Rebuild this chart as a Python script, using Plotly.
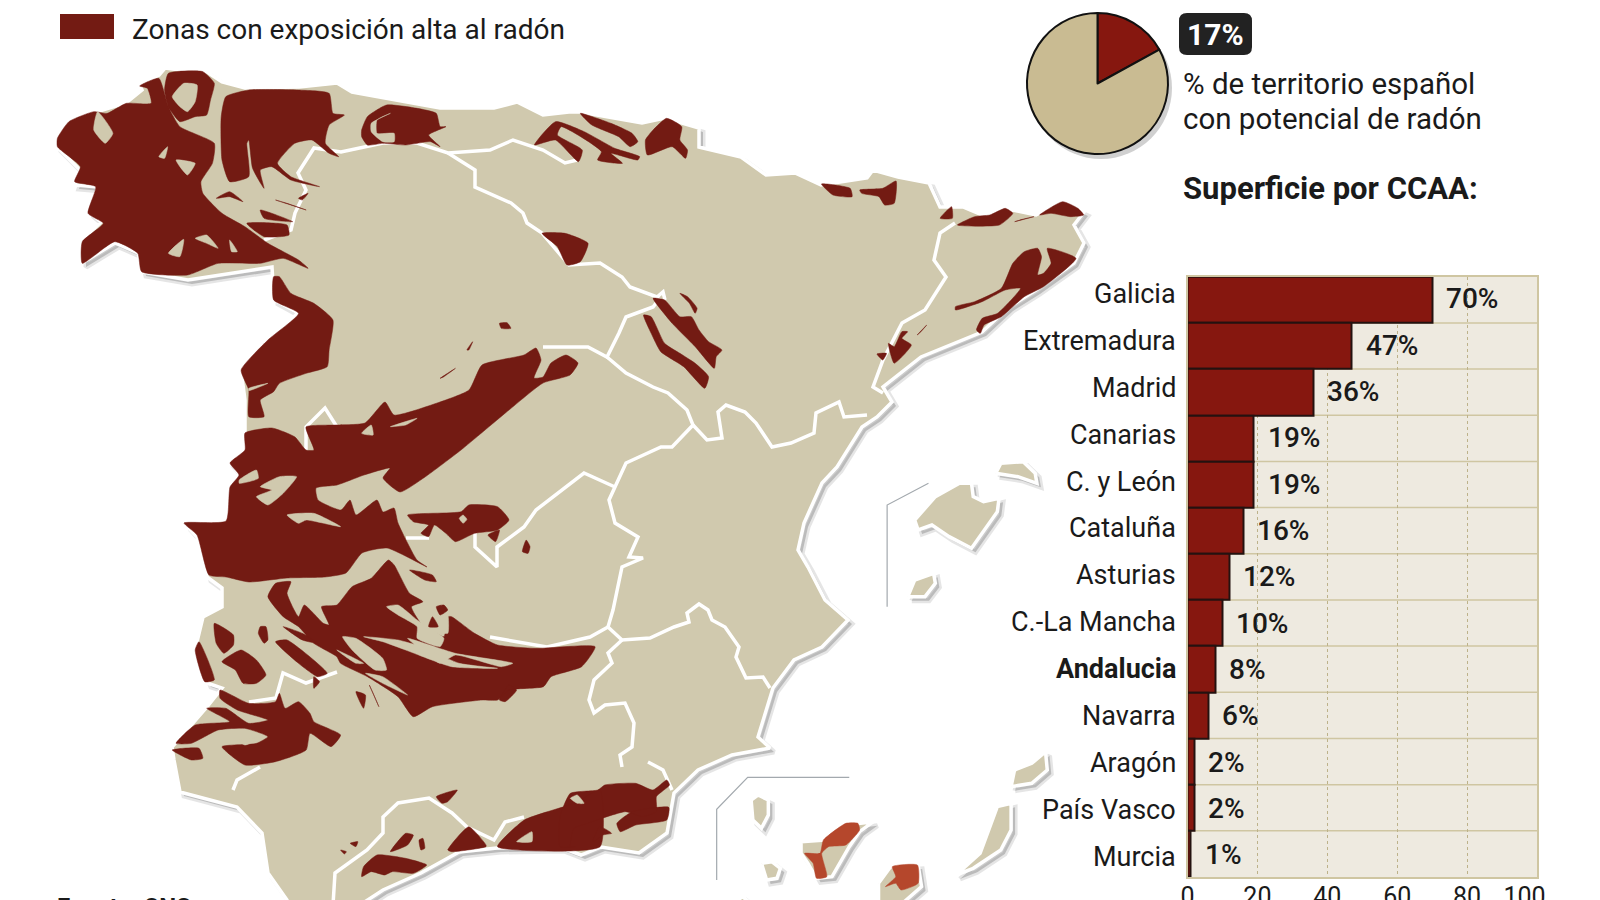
import plotly.graph_objects as go

# Bars
regions = ["Galicia", "Extremadura", "Madrid", "Canarias", "C. y León", "Cataluña", "Asturias",
           "C.-La Mancha", "Andalucia", "Navarra", "Aragón", "País Vasco", "Murcia"]
shares = [70, 47, 36, 19, 19, 16, 12, 10, 8, 6, 2, 2, 1]
x_ticks = [0, 20, 40, 60, 80, 100]
# the last label sits left of its tick in the original
x_tick_labels = ["0", "20", "40", "60", "80", "100&nbsp;&nbsp;&nbsp;&nbsp;"]

# Pie
pie_labels = ["Con potencial de radón", "Resto"]
pie_values = [17, 83]

FONT = "Roboto"
INK = "#1a1a1a"
RED = "#731b13"
BAR_RED = "#86170f"
LAND = "#d0c9ae"
PIE_TAN = "#c9bb92"
ROW_LINE = "#cfc6a2"


def crop(pts, x0, y0, sx=2.613):
    return [(x0 + x / sx, y0 + y / 3) for x, y in pts]


def a(*polys):
    return [crop(p, 0, 0) for p in polys]


def b(*polys):
    return [crop(p, 0, 450) for p in polys]


def c(*polys):
    return [crop(p, 500, 100) for p in polys]


def d(*polys):
    return [crop(p, 560, 450, 2.904) for p in polys]


def join(polys, dx=0, dy=0):
    xs, ys = [], []
    for p in polys:
        xs += [q[0] + dx for q in p] + [p[0][0] + dx, None]
        ys += [q[1] + dy for q in p] + [p[0][1] + dy, None]
    return xs, ys


# Map outlines
mainland = [(57, 137), (69, 122), (96, 112), (126, 103), (142, 90), (140, 85), (159, 75), (165, 68), (180, 70),
            (207, 72), (222, 82), (245, 88), (299, 87), (337, 83), (352, 92), (398, 100), (440, 108), (494, 108),
            (517, 102), (543, 115), (569, 112), (580, 112), (642, 123), (665, 118), (699, 128), (699, 147),
            (741, 157), (766, 175), (795, 173), (821, 185), (867, 178), (873, 170), (898, 177), (929, 183),
            (940, 207), (963, 207), (982, 215), (1013, 210), (1036, 215), (1063, 202), (1084, 212), (1074, 225),
            (1084, 243), (1074, 263), (1036, 290), (1009, 307), (982, 332), (921, 357), (883, 387), (892, 402),
            (877, 417), (862, 427), (837, 467), (822, 483), (804, 523), (798, 550), (808, 567), (825, 600),
            (848, 620), (822, 647), (794, 660), (773, 688), (758, 737), (770, 748), (732, 755), (698, 770),
            (674, 793), (667, 833), (639, 853), (601, 847), (581, 855), (560, 847), (497, 848), (459, 852),
            (421, 873), (383, 890), (360, 905), (290, 912), (287, 900), (268, 873), (262, 833), (237, 807),
            (180, 792), (174, 760), (172, 747), (207, 707), (222, 688), (207, 683), (195, 650), (203, 617),
            (222, 607), (222, 588), (207, 577), (197, 537), (186, 525), (226, 520), (239, 473), (230, 463),
            (245, 450), (245, 400), (241, 370), (268, 340), (298, 313), (274, 300), (272, 267), (188, 280),
            (142, 272), (138, 253), (115, 243), (82, 263), (82, 240), (101, 222), (90, 213), (98, 187),
            (75, 185), (80, 170), (57, 147)]
islands = d(
    [(1030, 210), (1090, 140), (1160, 100), (1195, 100), (1200, 140), (1230, 155), (1275, 145), (1270, 185),
     (1195, 295), (1130, 260), (1080, 225), (1040, 240)],
    [(1265, 70), (1280, 40), (1345, 35), (1380, 70), (1385, 100), (1330, 80)],
    [(1010, 440), (1030, 390), (1085, 370), (1090, 400), (1060, 440)],
    [(700, 1175), (770, 1170), (830, 1125), (910, 1115), (870, 1145), (840, 1190), (790, 1280), (745, 1285),
     (720, 1240), (700, 1210)],
    [(925, 1300), (960, 1250), (1040, 1245), (1050, 1310), (1000, 1355), (925, 1355)],
    [(555, 1050), (575, 1035), (605, 1050), (605, 1095), (585, 1135), (560, 1110)],
    [(585, 1240), (615, 1235), (640, 1255), (630, 1285), (600, 1290)],
    [(1150, 1275), (1220, 1210), (1270, 1070), (1310, 1060), (1310, 1140), (1280, 1200), (1200, 1255)],
    [(1310, 1010), (1320, 960), (1370, 940), (1410, 905), (1415, 960), (1370, 1000)],
    [(510, 1355), (530, 1340), (548, 1355)],
)
land = [mainland] + islands

region_borders = [
    [(264, 240), (291, 230), (295, 213), (306, 190), (298, 173), (314, 148), (341, 152), (383, 143), (417, 143),
     (448, 153), (490, 150), (513, 140), (543, 150), (565, 163), (577, 160)],
    [(448, 153), (475, 170), (475, 187), (500, 198), (511, 203), (523, 213), (527, 223), (542, 233), (569, 265),
     (600, 263), (622, 277), (630, 287), (657, 297), (663, 292), (665, 300)],
    [(660, 298), (653, 307), (626, 317), (619, 333), (607, 357), (588, 347), (573, 347), (546, 347), (543, 347)],
    [(607, 357), (626, 373), (653, 387), (668, 393), (687, 410), (693, 425), (672, 447), (661, 447), (626, 463),
     (615, 487), (609, 500), (615, 523), (638, 537), (629, 557), (643, 558), (622, 567), (613, 610), (608, 627),
     (622, 640), (650, 638), (674, 627), (689, 622), (687, 613), (699, 604), (708, 610), (712, 620), (725, 627),
     (739, 647), (736, 657), (746, 678), (763, 677), (770, 688)],
    [(615, 487), (584, 473), (536, 510), (524, 527), (497, 547), (497, 567), (475, 547), (475, 533)],
    [(406, 538), (429, 538)],
    [(693, 425), (707, 440), (722, 438), (718, 412), (726, 405), (745, 412), (756, 423), (772, 447), (791, 443),
     (814, 433), (816, 413), (839, 402), (844, 417), (867, 415)],
    [(955, 223), (940, 233), (934, 260), (946, 277), (925, 310), (902, 323), (883, 360), (873, 387), (883, 393)],
    [(490, 637), (547, 647), (590, 637), (608, 627)],
    [(622, 640), (608, 653), (612, 663), (594, 680), (589, 700), (594, 713), (605, 705), (625, 703), (634, 723),
     (632, 747), (620, 755), (622, 767)],
    [(648, 762), (663, 770), (672, 790)],
    [(249, 702), (276, 698), (283, 673), (306, 683), (337, 672)],
    [(233, 790), (237, 780), (260, 767)],
    [(333, 905), (335, 873), (367, 850), (383, 833), (383, 817), (398, 803), (429, 798), (452, 813), (467, 827),
     (494, 840), (505, 822), (524, 817)],
    [(306, 450), (306, 427), (325, 408), (337, 427)],
]

galicia_zones = a(
    [(150, 415), (180, 365), (245, 335), (280, 340), (330, 310), (395, 310), (385, 265), (365, 258), (415, 235),
     (440, 320), (470, 380), (560, 430), (555, 490), (525, 545), (530, 580), (580, 640), (640, 680), (700, 730),
     (780, 780), (805, 805), (740, 775), (680, 790), (570, 790), (490, 825), (370, 815), (360, 760), (300, 725),
     (215, 790), (215, 725), (270, 670), (230, 640), (250, 560), (195, 545), (210, 500), (150, 440)],
    [(430, 270), (440, 220), (530, 215), (560, 250), (550, 300), (540, 345), (510, 350), (470, 365), (440, 320)],
    [(590, 290), (650, 270), (780, 270), (860, 280), (870, 340), (900, 345), (860, 375), (850, 430), (885, 470),
     (860, 460), (815, 420), (770, 430), (725, 490), (760, 530), (835, 560), (760, 540), (710, 500), (680, 510),
     (690, 565), (660, 505), (650, 420), (645, 430), (650, 530), (600, 545), (580, 480), (578, 350)],
    [(565, 595), (600, 575), (635, 605), (600, 590)],
    [(720, 600), (800, 630), (750, 610)],
    [(780, 595), (805, 580), (790, 600)],
    [(680, 630), (765, 665), (690, 655)],
    [(645, 670), (750, 675), (755, 705), (690, 710)],
    [(945, 390), (960, 350), (1010, 315), (1090, 325), (1140, 340), (1150, 380), (1165, 380), (1120, 405),
     (1150, 440), (1125, 425), (1060, 435), (1000, 430), (960, 435), (945, 410)],
    [(715, 830), (730, 830), (760, 880), (820, 910), (870, 960), (860, 1050), (855, 1100), (800, 1120), (730, 1150),
     (715, 1175), (680, 1200), (690, 1250), (650, 1250), (650, 1170), (630, 1110), (700, 1020), (780, 940), (715, 900)],
    [(1305, 970), (1325, 968), (1335, 985), (1310, 985)],
    [(1220, 1050), (1235, 1025), (1225, 1050)],
    [(1150, 1135), (1190, 1105), (1160, 1130)],
)
north_zones = c(
    [(90, 135), (145, 65), (220, 95), (300, 145), (365, 170), (360, 180), (290, 160), (320, 190), (255, 180),
     (265, 155), (160, 80), (150, 105), (215, 150), (205, 185), (145, 120)],
    [(210, 40), (290, 70), (345, 100), (360, 125), (340, 140), (310, 110), (240, 75)],
    [(380, 120), (400, 90), (435, 55), (475, 80), (470, 120), (490, 150), (485, 175), (450, 140), (385, 165)],
    [(110, 400), (170, 400), (230, 430), (210, 485), (175, 495), (150, 440)],
    [(400, 595), (430, 600), (470, 650), (500, 650), (520, 690), (545, 725), (580, 750), (565, 770), (560, 805),
     (510, 740), (450, 670)],
    [(375, 645), (395, 650), (430, 730), (470, 760), (510, 790), (545, 830), (535, 865), (480, 800), (420, 755),
     (395, 700)],
    [(470, 580), (490, 590), (515, 625), (510, 640), (495, 610)],
    [(840, 252), (915, 265), (920, 290), (870, 285)],
    [(940, 270), (1000, 265), (1035, 243), (1030, 310), (1005, 315), (990, 290), (945, 280)],
    [(1150, 355), (1180, 320), (1182, 355)],
    [(1195, 375), (1240, 350), (1280, 345), (1320, 325), (1340, 340), (1305, 375)],
    [(1345, 365), (1395, 350), (1365, 358)],
    [(1410, 345), (1470, 305), (1510, 325), (1525, 345), (1490, 350), (1440, 340)],
    [(1190, 630), (1190, 620), (1240, 605), (1310, 565), (1340, 490), (1370, 455), (1405, 445), (1415, 470),
     (1405, 525), (1420, 520), (1440, 490), (1430, 445), (1505, 475), (1420, 560), (1370, 590), (1310, 650),
     (1265, 675), (1255, 700), (1245, 690), (1260, 655), (1300, 640), (1360, 565), (1320, 570), (1260, 605)],
    [(985, 762), (1010, 760), (1000, 780)],
    [(1015, 730), (1030, 740), (1050, 695), (1065, 695), (1050, 715), (1075, 735), (1030, 790), (1020, 760)],
    [(1090, 705), (1115, 675), (1100, 695)],
)
central_zone = [(578, 363), (570, 375), (543, 383), (509, 410), (461, 450), (425, 477), (400, 492), (383, 478),
                (390, 468), (364, 475), (337, 485), (316, 488), (318, 500), (341, 510), (350, 500), (356, 515),
                (377, 500), (383, 512), (394, 508), (398, 523), (417, 560), (427, 567), (387, 548), (362, 553),
                (346, 573), (325, 577), (287, 578), (249, 582), (226, 577), (209, 575), (197, 535), (184, 523),
                (226, 521), (230, 487), (239, 475), (230, 463), (245, 450), (245, 433), (272, 428), (295, 437),
                (306, 450), (314, 450), (306, 427), (337, 425), (365, 423), (385, 402), (394, 415), (440, 402),
                (469, 390), (482, 365), (524, 355), (536, 348), (541, 360), (534, 378), (543, 377), (551, 363),
                (566, 355)]
south_zones = b(
    [(1065, 195), (1205, 185), (1225, 165), (1300, 170), (1330, 210), (1300, 240), (1240, 250), (1190, 275),
     (1165, 250), (1135, 225), (1120, 260), (1100, 250), (1120, 225), (1080, 215)],
    [(1275, 255), (1305, 240), (1295, 275)],
    [(1365, 305), (1375, 270), (1385, 290), (1380, 310)],
    [(1070, 360), (1130, 375), (1140, 395), (1110, 390)],
    [(700, 440), (720, 400), (760, 395), (750, 430), (780, 500), (795, 465), (845, 520), (860, 525), (840, 470),
     (880, 465), (920, 410), (970, 385), (1015, 330), (1030, 345), (1070, 430), (1105, 455), (1075, 470),
     (1100, 520), (1160, 560), (1170, 500), (1180, 500), (1240, 550), (1300, 585), (1400, 595), (1555, 590),
     (1520, 650), (1440, 680), (1420, 710), (1330, 720), (1300, 750), (1260, 750), (1130, 770), (1080, 800),
     (1040, 740), (960, 680), (890, 640), (880, 620), (850, 600), (820, 580), (780, 530), (740, 500)],
    [(740, 530), (790, 550), (830, 580), (790, 570)],
    [(720, 575), (750, 570), (855, 670), (830, 680), (780, 640)],
    [(675, 550), (680, 530), (695, 530), (700, 570), (690, 580)],
    [(560, 520), (610, 555), (610, 585), (585, 610), (565, 580)],
    [(580, 635), (630, 600), (670, 630), (695, 675), (670, 700), (635, 700), (615, 660)],
    [(510, 600), (520, 575), (560, 690), (535, 695)],
    [(820, 680), (835, 695), (820, 715)],
    [(930, 725), (955, 735), (950, 775)],
    [(965, 705), (990, 770), (975, 730)],
    [(1305, 750), (1330, 705), (1350, 720), (1320, 755)],
    [(575, 720), (650, 760), (720, 755), (730, 730), (745, 775), (780, 755), (810, 790), (820, 815), (890, 855),
     (865, 890), (810, 850), (800, 900), (720, 935), (640, 945), (580, 890), (670, 880), (700, 860), (640, 835),
     (570, 840), (500, 880), (460, 880), (510, 825), (600, 815), (540, 775), (590, 775), (650, 820), (700, 810),
     (620, 780), (575, 745)],
    [(450, 900), (520, 895), (530, 925), (500, 930)],
    [(1300, 1190), (1370, 1110), (1500, 1060), (1568, 1020), (1568, 1190)],
    [(1170, 1200), (1225, 1130), (1270, 1185), (1270, 1190), (1180, 1205)],
    [(1140, 1040), (1195, 1020), (1170, 1055), (1155, 1060)],
    [(1020, 1205), (1060, 1150), (1080, 1155), (1065, 1185)],
    [(1095, 1170), (1105, 1165), (1110, 1195), (1100, 1200)],
    [(890, 1200), (905, 1205), (900, 1212)],
    [(915, 1180), (935, 1175), (930, 1190)],
    [(945, 1280), (950, 1250), (985, 1215), (1060, 1225), (1115, 1245), (1080, 1270), (1025, 1265), (1005, 1275),
     (970, 1265)],
)
almeria_zones = d(
    [(0, 1100), (30, 1030), (110, 1020), (130, 1005), (220, 1000), (270, 1020), (310, 990), (318, 1005), (280, 1040),
     (280, 1085), (240, 1100), (190, 1085), (80, 1120), (40, 1135), (30, 1190), (45, 1190), (0, 1190)],
    [(165, 1120), (210, 1085), (316, 1072), (310, 1110), (220, 1125), (175, 1145)],
    [(95, 1175), (115, 1130), (150, 1150), (125, 1155), (105, 1170)],
)
zones = galicia_zones + north_zones + [central_zone] + south_zones + almeria_zones

canary_zones = d(
    [(765, 1170), (830, 1120), (865, 1120), (870, 1140), (830, 1185), (780, 1190), (760, 1210), (775, 1280),
     (745, 1285), (735, 1240), (710, 1210), (755, 1210)],
    [(945, 1310), (975, 1280), (965, 1250), (1038, 1245), (1040, 1300), (990, 1320), (975, 1300)],
)

# tan gaps inside the red zones
zone_gaps = (
    a([(255, 335), (295, 400), (275, 430), (245, 390)],
      [(415, 470), (438, 440), (430, 475)],
      [(460, 480), (510, 490), (490, 525), (470, 500)],
      [(440, 760), (480, 718), (470, 770)],
      [(510, 715), (540, 705), (570, 745), (540, 730)],
      [(600, 720), (620, 755), (605, 755)],
      [(450, 290), (480, 250), (515, 255), (510, 305), (490, 335), (470, 320)],
      [(970, 370), (1020, 340), (985, 360), (985, 400), (1030, 400), (1030, 425), (1000, 425), (970, 395)],
      [(1020, 1280), (1090, 1255), (1060, 1275)],
      [(945, 1300), (970, 1275), (975, 1305)],
      [(650, 1165), (700, 1150), (650, 1172)])
    + b([(670, 140), (710, 120), (680, 110), (730, 80), (775, 80), (740, 130), (700, 165)],
        [(625, 90), (670, 60), (675, 85), (625, 100)],
        [(750, 195), (820, 190), (890, 230), (800, 210), (780, 220)],
        [(1200, 205), (1210, 195), (1220, 208), (1210, 220)],
        [(1010, 470), (1040, 465), (1090, 510), (1160, 565), (1150, 590), (1090, 565), (1090, 530), (1040, 495)],
        [(950, 560), (1040, 570), (1100, 590), (1200, 640), (1300, 655), (1180, 650), (1060, 600), (1000, 575)],
        [(1065, 565), (1190, 610), (1340, 640), (1310, 650), (1190, 615), (1150, 640), (1090, 590)],
        [(895, 560), (930, 565), (1000, 625), (1010, 660), (980, 660), (920, 600)],
        [(880, 600), (950, 640), (930, 640)],
        [(955, 670), (1000, 680), (1065, 735), (1000, 700)],
        [(1100, 470), (1150, 460), (1170, 490), (1170, 550), (1130, 540), (1095, 500)],
        [(620, 870), (680, 865), (640, 885)],
        [(1350, 1175), (1390, 1145), (1390, 1175)])
    + d([(30, 1045), (50, 1035), (70, 1060), (50, 1060)])
)
zone_spots = b([(1120, 530), (1130, 500), (1145, 530)],
               [(1140, 470), (1160, 465), (1170, 480), (1150, 495)])

inset_lines = d([(1070, 100), (950, 165), (950, 470)],
                [(840, 982), (545, 982), (455, 1078), (455, 1290)])

fig = go.Figure()

# bars
fig.add_trace(go.Bar(x=shares, y=regions, orientation="h", width=1, showlegend=False,
                     marker=dict(color=BAR_RED, line=dict(color="#241210", width=2)),
                     hovertemplate="%{y}: %{x}%<extra></extra>"))

# map, drawn on an axis pair spanning the whole page
map_axes = dict(xaxis="x2", yaxis="y2", hoverinfo="skip", showlegend=False)
lx, ly = join(land, 4, 4)
fig.add_trace(go.Scatter(x=lx, y=ly, fill="toself", fillcolor="rgba(110,110,110,0.35)", mode="lines",
                         line=dict(color="rgba(110,110,110,0.18)", width=5), **map_axes))
lx, ly = join(land)
fig.add_trace(go.Scatter(x=lx, y=ly, fill="toself", fillcolor=LAND, mode="lines",
                         line=dict(color="white", width=3.5), **map_axes))
for line in region_borders:
    fig.add_trace(go.Scatter(x=[q[0] for q in line], y=[q[1] for q in line], mode="lines",
                             line=dict(color="white", width=3.5), **map_axes))
for polys, colour in [(zones, RED), (zone_gaps, LAND), (zone_spots, RED), (canary_zones, "#b5472c")]:
    zx, zy = join(polys)
    fig.add_trace(go.Scatter(x=zx, y=zy, fill="toself", fillcolor=colour, mode="lines",
                             line=dict(color=colour, width=0.5, shape="spline", smoothing=0.5), **map_axes))
for line in inset_lines:
    fig.add_trace(go.Scatter(x=[q[0] for q in line], y=[q[1] for q in line], mode="lines",
                             line=dict(color="#a3a9ae", width=1.2), **map_axes))

# pie
fig.add_trace(go.Pie(labels=pie_labels, values=pie_values, sort=False, direction="clockwise", rotation=0,
                     domain=dict(x=[1027 / 1600, 1168 / 1600], y=[1 - 154 / 900, 1 - 13 / 900]),
                     marker=dict(colors=[BAR_RED, PIE_TAN], line=dict(color="#111111", width=2)),
                     textinfo="none", showlegend=False))

annotations = []
for i, (name, value) in enumerate(zip(regions, shares)):
    label = f"<b>{name}</b>" if name == "Andalucia" else name
    annotations.append(dict(x=0, y=name, xref="x", yref="y", text=label, showarrow=False, xanchor="right",
                            xshift=-10, yshift=6 - 9 * i / 12, font=dict(family=FONT, size=27, color=INK)))
    annotations.append(dict(x=value, y=name, xref="x", yref="y", text=f"{value}%", showarrow=False, xanchor="left",
                            xshift=12, yshift=1 - 2 * i / 12, font=dict(family=FONT, size=28, color=INK, weight=500)))


def page_text(x, y, text, size, colour=INK, anchor="left"):
    annotations.append(dict(x=x / 1600, y=1 - y / 900, xref="paper", yref="paper", text=text, showarrow=False,
                            xanchor=anchor, yanchor="middle", font=dict(family=FONT, size=size, color=colour)))


page_text(130, 29, "Zonas con exposición alta al radón", 28)
page_text(1181, 84, "% de territorio español", 29.5)
page_text(1181, 119, "con potencial de radón", 29.5)
page_text(1181, 189, "<b>Superficie por CCAA:</b>", 31)
page_text(1215, 34, "<b>17%</b>", 30, "white", "center")
annotations.append(dict(x=55 / 1600, y=1 - 891 / 900, xref="paper", yref="paper", text="<b>Fuente: CNS</b>",
                        showarrow=False, xanchor="left", yanchor="top", font=dict(family=FONT, size=24, color=INK)))

shapes = [
    # panel behind the bars: a transparent plot area, as the map axes lie over it
    dict(type="rect", xref="paper", yref="paper", x0=1187.5 / 1600, x1=1537 / 1600, y0=1 - 877 / 900,
         y1=1 - 276.7 / 900, fillcolor="#eeeae0", line_width=0, layer="below"),
    dict(type="rect", xref="paper", yref="paper", x0=60 / 1600, x1=114 / 1600, y0=1 - 39 / 900, y1=1 - 14 / 900,
         fillcolor=RED, line_width=0, layer="below"),
    dict(type="circle", xref="paper", yref="paper", x0=1030 / 1600, x1=1172 / 1600, y0=1 - 159 / 900, y1=1 - 17 / 900,
         fillcolor="rgba(120,120,120,0.35)", line_width=0, layer="below"),
    # badge behind 17%
    dict(type="path", xref="paper", yref="paper", layer="below", fillcolor="#222222", line_width=0,
         path="M {} {} L {} {} Q {} {} {} {} L {} {} Q {} {} {} {} L {} {} Q {} {} {} {} L {} {} Q {} {} {} {} Z".format(
             *[v for px, py in [(1187, 13), (1244, 13), (1252, 13), (1252, 21), (1252, 47), (1252, 55), (1244, 55),
                                (1187, 55), (1179, 55), (1179, 47), (1179, 21), (1179, 13), (1187, 13)]
               for v in (px / 1600, 1 - py / 900)])),
]
# row separators of the bar chart
for i in range(len(regions) - 1):
    shapes.append(dict(type="line", xref="x domain", yref="y", x0=0, x1=1, y0=i + 0.5, y1=i + 0.5,
                       line=dict(color=ROW_LINE, width=1.5), layer="below"))

fig.update_layout(
    width=1600, height=900, margin=dict(l=0, r=0, t=0, b=0, pad=0),
    paper_bgcolor="white", plot_bgcolor="rgba(0,0,0,0)", showlegend=False, bargap=0,
    font=dict(family=FONT, color=INK),
    annotations=annotations, shapes=shapes,
    xaxis=dict(domain=[1187.5 / 1600, 1537 / 1600], range=[0, 100], tickvals=x_ticks, ticktext=x_tick_labels,
               ticks="", automargin=False, showgrid=True, griddash="dot", gridcolor="#bdb28a", gridwidth=1,
               zeroline=False, showline=True, linecolor=ROW_LINE, linewidth=1.5, mirror=True, ticklabelstandoff=-4,
               tickfont=dict(family=FONT, size=25, color=INK), anchor="y"),
    yaxis=dict(domain=[1 - 877 / 900, 1 - 276.7 / 900], categoryorder="array", categoryarray=regions,
               autorange="reversed", showticklabels=False, ticks="", showgrid=False, zeroline=False, automargin=False,
               showline=True, linecolor=ROW_LINE, linewidth=1.5, mirror=True, anchor="x"),
    xaxis2=dict(domain=[0, 1], range=[0, 1600], visible=False, anchor="y2", fixedrange=True, automargin=False),
    yaxis2=dict(domain=[0, 1], range=[900, 0], visible=False, anchor="x2", fixedrange=True, automargin=False),
)

fig.write_html("out.html", config={"displayModeBar": False}, post_script="document.body.style.margin='0';")
